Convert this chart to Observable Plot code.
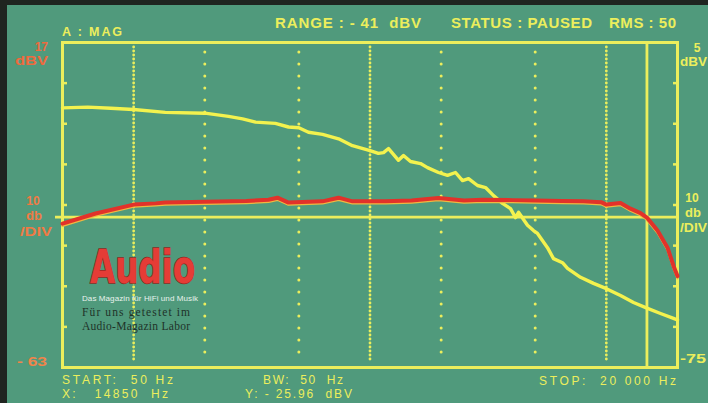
<!DOCTYPE html>
<html>
<head>
<meta charset="utf-8">
<script src="https://cdn.jsdelivr.net/npm/d3@7"></script>
<script src="https://cdn.jsdelivr.net/npm/@observablehq/plot@0.6"></script>
<style>
  html, body { margin: 0; padding: 0; background: #1f2520; }
  #wrap { position: relative; width: 708px; height: 403px; overflow: hidden; background: #1f2520; }
  #panel { position: absolute; left: 7px; top: 5px; right: 0; bottom: 0; background: #509a7c; }
  #wrap svg { position: absolute; left: 0; top: 0; }
</style>
</head>
<body>
<div id="wrap"><div id="panel"></div></div>
<script>
// ---- data ----
const yellowFreq = [50, 64, 80, 100, 136, 200, 252, 289, 328, 398, 452, 500, 549, 630, 736, 843, 1000, 1085, 1141, 1198, 1320, 1386, 1484, 1636, 1751, 1949, 2128, 2300, 2463, 2611, 2850, 3082, 3332, 3636, 3931, 4127, 4250, 4638, 4918, 5113, 5637, 5976, 6523, 6850, 7775, 8825, 10000, 11480, 13030, 14850, 16950, 19240, 20000];
const yellowDb   = [0.9, 1.1, 0.8, 0.5, -0.2, -0.4, -1.2, -1.8, -2.6, -2.9, -3.8, -4.0, -5.1, -5.6, -6.7, -8.4, -9.6, -10.3, -10.1, -9.1, -12.0, -10.8, -12.3, -12.8, -13.8, -15.0, -15.7, -15.0, -17.0, -16.5, -18.2, -18.7, -20.7, -22.6, -23.9, -26.1, -24.8, -28.0, -29.3, -30.0, -33.5, -36.2, -37.2, -38.6, -40.8, -42.3, -43.6, -45.3, -47.0, -48.4, -49.7, -50.9, -51.3];

const redFreq = [50, 69, 100, 124, 136, 200, 300, 372, 406, 452, 630, 736, 843, 1163, 1500, 1949, 2500, 3000, 4000, 5000, 6500, 8000, 9500, 10000, 11480, 12650, 13950, 14850, 16460, 18150, 19240, 20000];
const redDb   = [-27.6, -25.1, -22.9, -22.6, -22.4, -22.2, -22.0, -21.7, -21.2, -22.4, -22.1, -21.2, -22.1, -22.1, -21.9, -21.3, -21.9, -21.7, -21.8, -21.9, -22.0, -22.1, -22.3, -22.9, -22.5, -23.9, -25.0, -26.1, -29.3, -33.5, -38.0, -40.5];

const majorGrid = [100, 1000, 10000];
const minorGrid = [200, 500, 2000, 5000];
const yTicks = [7, -3, -13, -23, -33, -43, -53];
const cursorX = [14850];
const cursorY = [-25.96];

const headerTexts = ["A : MAG", "RANGE : - 41  dBV", "STATUS : PAUSED", "RMS : 50"];
const leftLabels = ["17", "dBV", "10", "db", "/DIV", "- 63"];
const rightLabels = ["5", "dBV", "10", "db", "/DIV", "-75"];
const footerTexts = ["START:  50 Hz", "X:   14850  Hz", "BW:  50  Hz", "Y: - 25.96  dBV", "STOP:  20 000 Hz"];
const logoTexts = ["Audio", "Das Magazin für HiFi und Musik", "Für uns getestet im", "Audio-Magazin Labor"];

// ---- build ----
const yellowData = yellowFreq.map((f, i) => ({f, db: yellowDb[i]}));
const redData = redFreq.map((f, i) => ({f, db: redDb[i]}));

const frameYellow = "#ecee5c";
const traceYellow = "#f3f24e";
const traceRed = "#e2322a";

const chart = Plot.plot({
  width: 708, height: 403,
  marginLeft: 62, marginRight: 31, marginTop: 42, marginBottom: 36,
  style: {background: "transparent", overflow: "visible"},
  x: {type: "log", domain: [50, 20000], axis: null},
  y: {domain: [-63, 17]},
  marks: [
    Plot.ruleX(majorGrid, {x: d => d, stroke: frameYellow, strokeWidth: 2.8, strokeLinecap: "round", strokeDasharray: "0,4", insetTop: 5, insetBottom: 4}),
    Plot.ruleX(minorGrid, {x: d => d, stroke: frameYellow, strokeWidth: 3, strokeLinecap: "round", strokeDasharray: "0,12", insetTop: 10, insetBottom: 8}),
    Plot.ruleY(cursorY, {y: d => d, stroke: frameYellow, strokeWidth: 2.8, insetLeft: -7}),
    Plot.ruleX(cursorX, {x: d => d, stroke: frameYellow, strokeWidth: 2.8}),
    Plot.axisY({anchor: "left", ticks: yTicks, tickSize: -5, tickFormat: () => "", stroke: frameYellow, strokeWidth: 2.5, label: null}),
    Plot.axisY({anchor: "right", ticks: yTicks, tickSize: -5, tickFormat: () => "", stroke: frameYellow, strokeWidth: 2.5, label: null}),
    Plot.frame({stroke: frameYellow, strokeWidth: 3}),
    Plot.line(yellowData, {x: "f", y: "db", stroke: traceYellow, strokeWidth: 3.4, curve: "linear"}),
    Plot.line(redData, {x: "f", y: "db", stroke: "#f0b840", strokeWidth: 2.5, dy: 2}),
    Plot.line(redData, {x: "f", y: "db", stroke: traceRed, strokeWidth: 4})
  ]
});
document.getElementById("wrap").appendChild(chart);

// ---- text overlay ----
const NS = "http://www.w3.org/2000/svg";
const ov = document.createElementNS(NS, "svg");
ov.setAttribute("width", 708); ov.setAttribute("height", 403);
ov.style.pointerEvents = "none";
document.getElementById("wrap").appendChild(ov);
function txt(s, x, y, o = {}) {
  const t = document.createElementNS(NS, "text");
  t.textContent = s;
  t.setAttribute("x", x); t.setAttribute("y", y);
  t.setAttribute("font-family", o.family || "'Liberation Sans', Arial, sans-serif");
  t.setAttribute("font-size", o.size || 13);
  t.setAttribute("font-weight", o.weight || "bold");
  t.setAttribute("fill", o.fill || frameYellow);
  t.setAttribute("text-anchor", o.anchor || "start");
  t.setAttribute("xml:space", "preserve");
  t.style.whiteSpace = "pre";
  if (o.len) { t.setAttribute("textLength", o.len); t.setAttribute("lengthAdjust", o.adjust || "spacing"); }
  if (o.stroke) { t.setAttribute("stroke", o.stroke); t.setAttribute("stroke-width", o.sw || 1); t.setAttribute("paint-order", "stroke"); }
  ov.appendChild(t);
  return t;
}
const SG = "spacingAndGlyphs";
// header
txt(headerTexts[0], 62, 36, {size: 12.5, len: 60});
txt(headerTexts[1], 275, 28, {size: 15, len: 146});
txt(headerTexts[2], 451, 28, {size: 15, len: 141});
txt(headerTexts[3], 609, 28, {size: 15, len: 67});
// left labels
const lc = "#ee6a3e";
txt(leftLabels[0], 48, 51, {size: 12, fill: lc, anchor: "end"});
txt(leftLabels[1], 15, 65, {size: 13, fill: lc, len: 33, adjust: SG});
txt(leftLabels[2], 33, 205, {size: 12, fill: "#f07a44", anchor: "middle"});
txt(leftLabels[3], 34, 220, {size: 13, fill: "#f07a44", anchor: "middle"});
txt(leftLabels[4], 20, 236, {size: 13, fill: "#f07a44", len: 32, adjust: SG});
txt(leftLabels[5], 17, 366, {size: 13, fill: "#f0844a", len: 30, adjust: SG});
// right labels
txt(rightLabels[0], 697, 52, {size: 12, anchor: "middle"});
txt(rightLabels[1], 680, 66, {size: 13, len: 27, adjust: SG});
txt(rightLabels[2], 692, 202, {size: 12, anchor: "middle"});
txt(rightLabels[3], 693, 217, {size: 13, anchor: "middle"});
txt(rightLabels[4], 680, 232, {size: 13, len: 27, adjust: SG});
txt(rightLabels[5], 680, 363, {size: 13, len: 26, adjust: SG});
// footer
txt(footerTexts[0], 62, 384, {size: 12, len: 111, weight: "normal"});
txt(footerTexts[1], 62, 398, {size: 12, len: 106, weight: "normal"});
txt(footerTexts[2], 263, 384, {size: 12, len: 80, weight: "normal"});
txt(footerTexts[3], 245, 398, {size: 12, len: 107, weight: "normal"});
txt(footerTexts[4], 539, 385, {size: 12, len: 137, weight: "normal"});
// logo
txt(logoTexts[0], 90, 283, {size: 46, fill: "#e53c36", len: 105, adjust: SG, stroke: "#8a2a22", sw: 1.5, family: "'DejaVu Sans', 'Liberation Sans', sans-serif"});
txt(logoTexts[1], 82, 301, {size: 8, fill: "#e8f2ec", len: 116, weight: "normal"});
txt(logoTexts[2], 82, 316, {size: 11.5, fill: "#1f3329", len: 108, weight: "normal", family: "'Liberation Serif', 'DejaVu Serif', serif"});
txt(logoTexts[3], 82, 330, {size: 11.5, fill: "#1f3329", len: 108, weight: "normal", family: "'Liberation Serif', 'DejaVu Serif', serif"});
</script>
</body>
</html>
